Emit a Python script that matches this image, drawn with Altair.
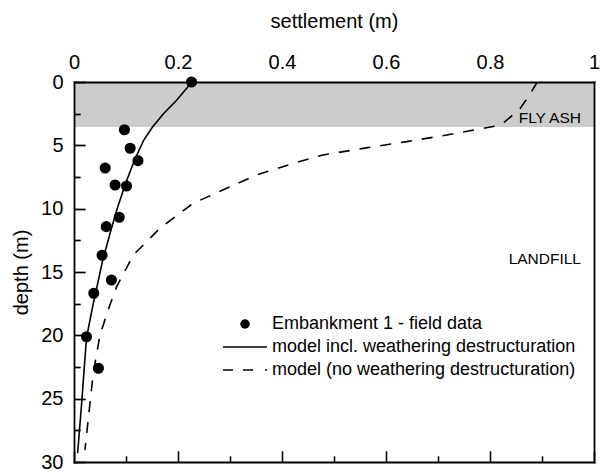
import altair as alt
import pandas as pd

# Embankment 1 field measurements
field_settlement = [0.226, 0.097, 0.108, 0.123, 0.060, 0.079, 0.101, 0.087, 0.062, 0.054, 0.072, 0.038, 0.024, 0.047]
field_depth = [0.0, 3.77, 5.23, 6.21, 6.79, 8.13, 8.21, 10.68, 11.42, 13.68, 15.63, 16.68, 20.11, 22.6]

# model including weathering destructuration
model_w_settlement = [0.227, 0.196, 0.172, 0.151, 0.134, 0.116, 0.098, 0.083, 0.069, 0.055, 0.044, 0.037, 0.024, 0.015, 0.007]
model_w_depth = [0.0, 1.5, 2.5, 3.55, 4.6, 6.2, 8.15, 10.0, 12.0, 14.1, 16.2, 17.5, 20.2, 25.2, 29.3]

# model without weathering destructuration
model_nw_settlement = [0.891, 0.874, 0.858, 0.829, 0.806, 0.717, 0.640, 0.556, 0.479, 0.425, 0.351,
                       0.229, 0.165, 0.114, 0.082, 0.069, 0.050, 0.037, 0.021]
model_nw_depth = [0.0, 1.16, 2.08, 3.13, 3.52, 4.18, 4.71, 5.24, 5.76, 6.38, 7.34,
                  9.58, 11.55, 13.66, 16.16, 17.6, 19.97, 23.0, 29.05]

# fly ash layer band
band_from = [0.0]
band_to = [1.0]
band_top = [0.0]
band_bottom = [3.55]

# layer annotations
layer_names = ["FLY ASH", "LANDFILL"]
layer_label_depth = [2.87, 14.0]
layer_label_x = [1.0, 1.0]

series_names = [
    "Embankment 1 - field data",
    "model incl. weathering destructuration",
    "model (no weathering destructuration)",
]

x_ticks = [round(i * 0.1, 1) for i in range(11)]
y_ticks = [i * 2.5 for i in range(13)]

FONT = "Liberation Sans"
PLOT_W, PLOT_H = 520, 380

field_df = pd.DataFrame({"settlement": field_settlement, "depth": field_depth, "series": series_names[0]})
w_df = pd.DataFrame({"settlement": model_w_settlement, "depth": model_w_depth})
nw_df = pd.DataFrame({"settlement": model_nw_settlement, "depth": model_nw_depth})
band_df = pd.DataFrame({"x0": band_from, "x1": band_to, "top": band_top, "bottom": band_bottom})
label_df = pd.DataFrame({"name": layer_names, "depth": layer_label_depth, "x": layer_label_x})

xscale = alt.Scale(domain=[0, 1], nice=False, zero=False)
yscale = alt.Scale(domain=[0, 30], reverse=True, nice=False, zero=False)

x_major = "round(datum.value * 10) % 2 === 0"
y_major = "datum.value % 5 === 0"


def tick_dash(test, far_end=None):
    """Inward tick marks drawn as a short dash of each grid line.

    far_end: grid line length when the line starts at the opposite side."""
    if far_end is None:
        major, minor = [11, 3000], [6, 3000]
    else:
        major, minor = [0, far_end - 11, 11, 3000], [0, far_end - 6, 6, 3000]
    return {"condition": {"test": test, "value": major}, "value": minor}


common = dict(
    domain=True, domainColor="black", domainWidth=1.8, domainCap="square",
    ticks=False, grid=True, gridColor="black", gridWidth=1.3, gridOpacity=1,
    zindex=1,
)

top_axis = alt.Axis(
    orient="top", values=x_ticks, format="~g", labelExpr=f"{x_major} ? datum.label : ''",
    labelFlush=False, labelOverlap=False, labelFontSize=20, labelColor="black",
    labelFont=FONT, labelPadding=10, gridDash=tick_dash(x_major, PLOT_H),
    titleFontSize=20, titleFont=FONT, titleFontWeight="normal", titleColor="black",
    titlePadding=21, **common,
)
bottom_axis = alt.Axis(
    orient="bottom", values=x_ticks, labels=False, title=None,
    gridDash=tick_dash(x_major), **common,
)
left_axis = alt.Axis(
    orient="left", values=y_ticks, format="~g", labelExpr=f"{y_major} ? datum.label : ''",
    labelFlush=False, labelOverlap=False, labelFontSize=20, labelColor="black",
    labelFont=FONT, labelPadding=11, gridDash=tick_dash(y_major),
    titleFontSize=20, titleFont=FONT, titleFontWeight="normal", titleColor="black",
    titlePadding=9, **common,
)
right_axis = alt.Axis(
    orient="right", values=y_ticks, labels=False, title=None,
    gridDash=tick_dash(y_major, PLOT_W), **common,
)

band = alt.Chart(band_df).mark_rect(color="#cccccc").encode(
    x=alt.X("x0:Q", scale=xscale, axis=top_axis, title="settlement (m)"),
    x2="x1:Q",
    y=alt.Y("top:Q", scale=yscale, axis=left_axis, title="depth (m)"),
    y2="bottom:Q",
)

dashed = alt.Chart(nw_df).mark_line(color="black", strokeWidth=1.6, strokeDash=[11, 10]).encode(
    x=alt.X("settlement:Q", scale=xscale, axis=None),
    y=alt.Y("depth:Q", scale=yscale, axis=None),
    order="depth:Q",
)

solid = alt.Chart(w_df).mark_line(color="black", strokeWidth=1.6).encode(
    x=alt.X("settlement:Q", scale=xscale, axis=None),
    y=alt.Y("depth:Q", scale=yscale, axis=None),
    order="depth:Q",
)

# legend glyphs: dot, solid stroke and dashed stroke (strokes as thin filled bars)
solid_glyph = "M-4.64,-0.17H4.64V0.17H-4.64Z"
dashed_glyph = ("M-4.64,-0.17H-2.53V0.17H-4.64Z"
                "M-0.42,-0.17H1.69V0.17H-0.42Z"
                "M4.22,-0.17H4.64V0.17H4.22Z")

points = alt.Chart(field_df).mark_point(
    size=90, fill="black", stroke="black", strokeWidth=1.6, opacity=1, fillOpacity=1
).encode(
    x=alt.X("settlement:Q", scale=xscale, axis=bottom_axis),
    y=alt.Y("depth:Q", scale=yscale, axis=right_axis),
    shape=alt.Shape(
        "series:N",
        scale=alt.Scale(domain=series_names, range=["circle", solid_glyph, dashed_glyph]),
        legend=alt.Legend(
            title=None, orient="none", legendX=162, legendY=233,
            symbolSize=90, symbolStrokeWidth=1.6, symbolFillColor="black",
            symbolStrokeColor="black", symbolOpacity=1,
            labelFontSize=18, labelFont=FONT, labelColor="black", labelOffset=18,
            labelLimit=0, rowPadding=5, padding=0,
        ),
    ),
)

labels = alt.Chart(label_df).mark_text(
    align="right", baseline="middle", dx=-13, fontSize=15.5, font=FONT, color="black"
).encode(
    x=alt.X("x:Q", scale=xscale, axis=None),
    y=alt.Y("depth:Q", scale=yscale, axis=None),
    text="name:N",
)

chart = (
    alt.layer(band, dashed, solid, points, labels)
    .resolve_axis(x="independent", y="independent")
    .properties(
        width=PLOT_W, height=PLOT_H,
        padding={"left": 74, "top": 82, "right": 6, "bottom": 14},
        autosize=alt.AutoSizeParams(type="none"),
        background="white",
    )
    .configure_view(stroke=None)
)

chart.save("out.html", embed_options={"renderer": "svg", "actions": False})
